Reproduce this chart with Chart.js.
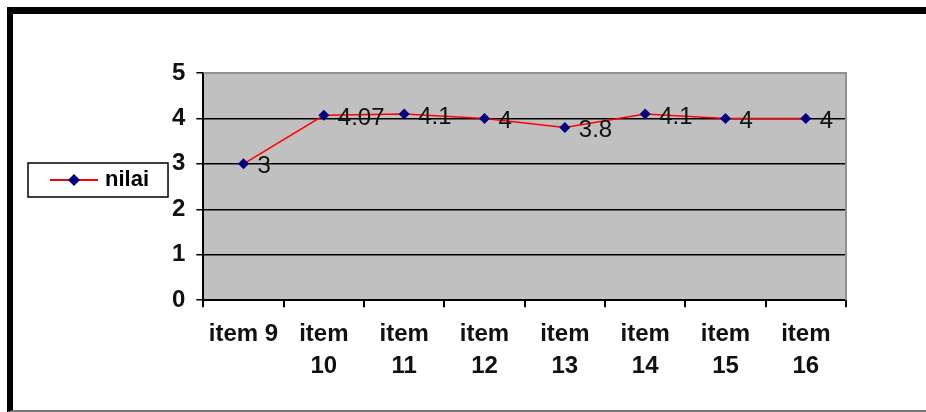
<!DOCTYPE html>
<html>
<head>
<meta charset="utf-8">
<script src="https://cdn.jsdelivr.net/npm/chart.js@4/dist/chart.umd.min.js"></script>
<style>
  html, body { margin: 0; padding: 0; background: #fff; overflow: hidden; }
  #wrap { position: relative; width: 926px; height: 412px; }
  #frame { position: absolute; left: 7px; top: 7px; width: 940px; height: 396px;
           border-top: 7px solid #000; border-left: 6px solid #000; border-bottom: 2px solid #777; }
  #box { position: absolute; left: 0; top: 0; width: 926px; height: 412px; }
</style>
</head>
<body>
<div id="wrap">
  <div id="frame"></div>
  <div id="box"><canvas id="Nilai"></canvas></div>
</div>
<script>
var categories = [["item 9"], ["item", "10"], ["item", "11"], ["item", "12"], ["item", "13"], ["item", "14"], ["item", "15"], ["item", "16"]];
var nilai = [3, 4.07, 4.1, 4, 3.8, 4.1, 4, 4];
var yTicks = [0, 1, 2, 3, 4, 5];

var FONT = "'Liberation Sans', Arial, sans-serif";

// legend symbol: red line with navy diamond
function legendSymbol() {
  var c = document.createElement('canvas');
  c.width = 48; c.height = 14;
  var g = c.getContext('2d');
  g.strokeStyle = '#ff0000';
  g.lineWidth = 2;
  g.beginPath(); g.moveTo(0, 7); g.lineTo(48, 7); g.stroke();
  g.fillStyle = '#000080';
  g.beginPath(); g.moveTo(24, 1); g.lineTo(30, 7); g.lineTo(24, 13); g.lineTo(18, 7); g.closePath(); g.fill();
  return c;
}

var plotBg = {
  id: 'plotBg',
  afterLayout: function(chart) {
    // move the legend next to the y axis, centred at y=180
    var lg = chart.legend;
    var dx = 16, dy = 180 - (lg.top + lg.bottom) / 2;
    lg.left += dx; lg.right += dx;
    lg.top += dy; lg.bottom += dy;
  },
  beforeDraw: function(chart) {
    var a = chart.chartArea, ctx = chart.ctx;
    ctx.save();
    ctx.fillStyle = '#c0c0c0';
    ctx.fillRect(a.left, a.top, a.right - a.left, a.bottom - a.top);
    ctx.restore();
  },
  afterDraw: function(chart) {
    var a = chart.chartArea, ctx = chart.ctx;
    ctx.save();
    ctx.strokeStyle = '#909090';
    ctx.lineWidth = 2;
    ctx.beginPath();
    ctx.moveTo(a.left, a.top); ctx.lineTo(a.right, a.top); ctx.lineTo(a.right, a.bottom);
    ctx.stroke();
    // legend border
    var lg = chart.legend;
    if (lg && lg.legendHitBoxes && lg.legendHitBoxes.length) {
      var h = lg.legendHitBoxes[0];
      var cy = h.top + h.height / 2;
      ctx.strokeStyle = '#000';
      ctx.lineWidth = 1.5;
      ctx.strokeRect(h.left - 26, cy - 17, h.width + 45, 34);
    }
    ctx.restore();
  }
};

var valueLabels = {
  id: 'valueLabels',
  afterDatasetsDraw: function(chart) {
    var ctx = chart.ctx;
    var meta = chart.getDatasetMeta(0);
    ctx.save();
    ctx.font = '24px ' + FONT;
    ctx.fillStyle = '#111';
    ctx.textBaseline = 'middle';
    ctx.textAlign = 'left';
    meta.data.forEach(function(pt, i) {
      ctx.fillText(String(nilai[i]), pt.x + 14, pt.y + 3);
    });
    ctx.restore();
  }
};

var ctx = document.getElementById('Nilai').getContext('2d');
var chart = new Chart(ctx, {
  type: 'line',
  data: {
    labels: categories,
    datasets: [{
      label: 'nilai',
      data: nilai,
      borderColor: '#ff0000',
      borderWidth: 1.5,
      tension: 0,
      pointStyle: 'rectRot',
      pointRadius: 5.5,
      pointBackgroundColor: '#000080',
      pointBorderColor: '#000080',
      pointBorderWidth: 0
    }]
  },
  options: {
    responsive: true,
    maintainAspectRatio: false,
    animation: false,
    layout: { padding: { left: 28, right: 80, top: 73, bottom: 19 } },
    plugins: {
      tooltip: { enabled: false },
      legend: {
        position: 'left',
        fullSize: false,
        labels: {
          usePointStyle: true,
          pointStyleWidth: 40,
          padding: 10,
          color: '#111',
          font: { family: FONT, size: 22, weight: 'bold' },
          generateLabels: function(chart) {
            return [{ text: 'nilai', pointStyle: legendSymbol(), datasetIndex: 0, hidden: false, lineWidth: 0 }];
          }
        }
      }
    },
    scales: {
      x: {
        offset: true,
        grid: { offset: true, drawOnChartArea: false, drawTicks: true, tickLength: 7, color: '#000', lineWidth: 2 },
        border: { color: '#000', width: 2 },
        ticks: { color: '#111', padding: 11, maxRotation: 0, autoSkip: false,
                 font: { family: FONT, size: 24, weight: 'bold', lineHeight: 1.33 } }
      },
      y: {
        min: 0, max: 5,
        afterBuildTicks: function(scale) { scale.ticks = yTicks.map(function(v) { return { value: v }; }); },
        afterFit: function(scale) { scale.width += 18; },
        grid: { color: function(c) { return c.tick.value === 5 ? 'rgba(0,0,0,0)' : '#000'; },
                lineWidth: 1.5, tickLength: 7, tickColor: '#000' },
        border: { color: '#000', width: 2 },
        ticks: { color: '#111', padding: 11, font: { family: FONT, size: 24, weight: 'bold' } }
      }
    }
  },
  plugins: [plotBg, valueLabels]
});
</script>
</body>
</html>
